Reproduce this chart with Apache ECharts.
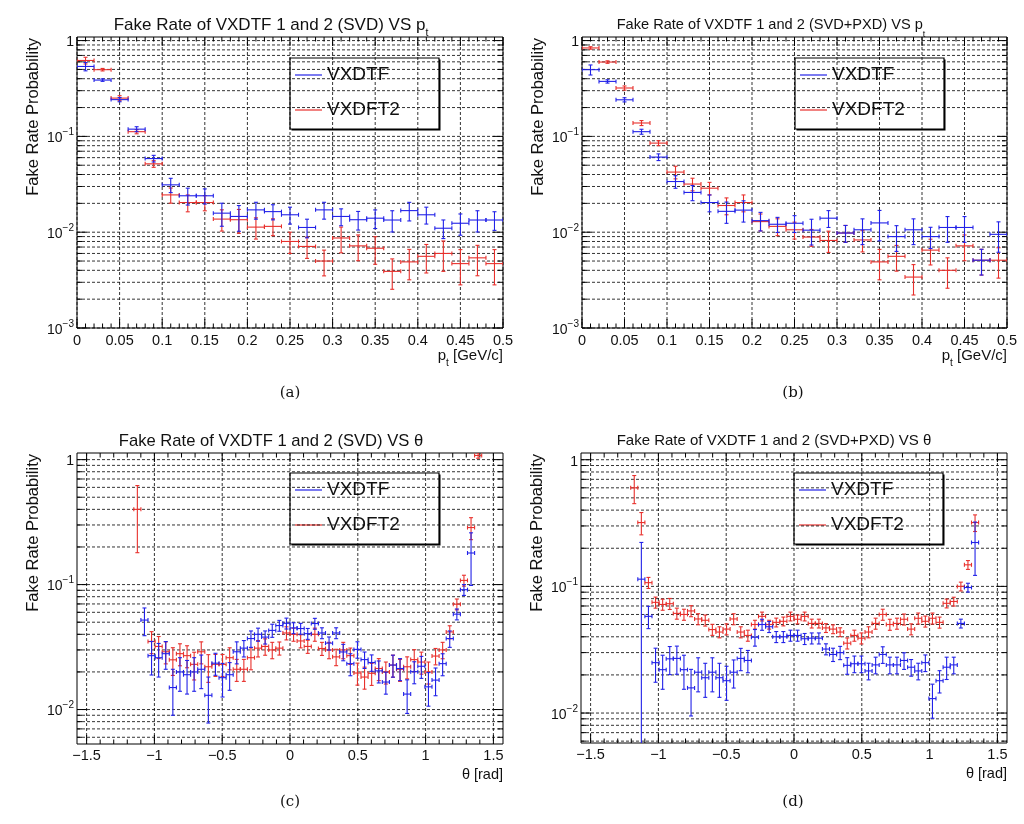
<!DOCTYPE html>
<html><head><meta charset="utf-8">
<script src="https://cdn.jsdelivr.net/npm/echarts@6/dist/echarts.min.js"></script>
<style>html,body{margin:0;padding:0;background:#fff}#c{width:1024px;height:824px}</style>
</head><body><div id="c"></div>
<script>
// ---------------- data ----------------
const ptBins = [0.01,0.03,0.05,0.07,0.09,0.11,0.13,0.15,0.17,0.19,0.21,0.23,0.25,0.27,0.29,0.31,0.33,0.35,0.37,0.39,0.41,0.43,0.45,0.47,0.49];
const ptHalfWidth = 0.01;

const aBlue    = [0.537,0.387,0.242,0.119,0.0587,0.0312,0.0240,0.0240,0.0158,0.0146,0.0171,0.0164,0.0152,0.0112,0.0171,0.0146,0.0135,0.0140,0.0134,0.0168,0.0152,0.0110,0.0124,0.0134,0.0134];
const aBlueErr = [0.10,0.03,0.05,0.06,0.08,0.17,0.20,0.18,0.27,0.30,0.20,0.18,0.20,0.22,0.20,0.20,0.22,0.22,0.25,0.22,0.20,0.22,0.25,0.25,0.22];
const aRed     = [0.62,0.497,0.251,0.112,0.0517,0.0245,0.0204,0.0204,0.0137,0.0135,0.0113,0.0115,0.0080,0.0071,0.0050,0.0087,0.0072,0.0068,0.0039,0.0049,0.0056,0.0060,0.0047,0.0054,0.0047];
const aRedErr  = [0.08,0.03,0.06,0.05,0.08,0.18,0.20,0.18,0.25,0.28,0.25,0.20,0.25,0.25,0.30,0.30,0.30,0.32,0.35,0.35,0.33,0.35,0.40,0.35,0.40];

const bBlue    = [0.497,0.375,0.241,0.112,0.0608,0.0338,0.0260,0.0204,0.0165,0.0170,0.0132,0.0121,0.0124,0.0105,0.0140,0.0098,0.0106,0.0125,0.0090,0.0106,0.0090,0.0112,0.0112,0.0051,0.0095];
const bBlueErr = [0.12,0.04,0.05,0.06,0.08,0.15,0.18,0.20,0.25,0.25,0.22,0.18,0.20,0.30,0.20,0.20,0.30,0.35,0.30,0.30,0.25,0.30,0.30,0.30,0.35];
const bRed     = [0.838,0.597,0.320,0.138,0.0851,0.0424,0.0318,0.0288,0.0190,0.0204,0.0129,0.0115,0.0106,0.0089,0.0082,0.0098,0.0083,0.0049,0.0056,0.0034,0.0065,0.0040,0.0072,0.0051,0.0051];
const bRedErr  = [0.03,0.03,0.05,0.06,0.06,0.15,0.15,0.15,0.20,0.20,0.20,0.20,0.20,0.20,0.25,0.20,0.25,0.35,0.30,0.35,0.30,0.35,0.30,0.30,0.35];

const thetaBins = [-1.1781,-1.1257,-1.0734,-1.0210,-0.9687,-0.9163,-0.8639,-0.8116,-0.7592,-0.7069,-0.6545,-0.6021,-0.5498,-0.4974,-0.4451,-0.3927,-0.3403,-0.2880,-0.2356,-0.1833,-0.1309,-0.0785,-0.0262,0.0262,0.0785,0.1309,0.1833,0.2356,0.2880,0.3403,0.3927,0.4451,0.4974,0.5498,0.6021,0.6545,0.7069,0.7592,0.8116,0.8639,0.9163,0.9687,1.0210,1.0734,1.1257,1.1781,1.2305,1.2828,1.3352,1.3875];
const thetaHalfWidth = 0.02618;

const cBlue    = [null,null,0.052,0.027,0.026,0.028,0.015,0.020,0.019,0.020,0.021,0.013,0.0235,0.018,0.019,0.029,0.031,0.037,0.040,0.038,0.043,0.047,0.049,0.045,0.0445,0.0405,0.0488,0.041,0.034,0.041,0.0289,0.0233,0.0303,0.0251,0.0238,0.0204,0.0166,0.0227,0.0213,0.0133,0.0201,0.0222,0.0152,0.0172,0.0233,0.037,0.058,0.091,0.179,null];
const cBlueErr = [null,null,0.25,0.3,0.3,0.25,0.4,0.3,0.3,0.3,0.3,0.4,0.2,0.3,0.25,0.2,0.15,0.15,0.12,0.12,0.12,0.1,0.1,0.1,0.1,0.1,0.1,0.1,0.12,0.1,0.15,0.2,0.15,0.15,0.15,0.2,0.2,0.2,0.2,0.3,0.2,0.2,0.3,0.25,0.2,0.15,0.1,0.1,0.45,null];
const cRed     = [null,0.40,null,0.035,0.032,0.029,0.025,0.028,0.027,0.023,0.029,0.022,0.023,0.023,0.026,0.021,0.021,0.026,0.031,0.032,0.030,0.031,0.041,0.040,0.0354,0.032,0.040,0.0308,0.030,0.0264,0.030,0.027,0.0196,0.0182,0.0195,0.0213,0.020,0.0227,0.021,0.022,0.0251,0.024,0.020,0.0268,0.030,0.0418,0.0697,0.108,0.286,1.08];
const cRedErr  = [null,0.55,null,0.2,0.2,0.2,0.25,0.2,0.2,0.25,0.2,0.25,0.2,0.2,0.2,0.2,0.2,0.2,0.15,0.15,0.15,0.12,0.12,0.12,0.12,0.12,0.12,0.12,0.15,0.15,0.15,0.15,0.2,0.2,0.2,0.2,0.2,0.2,0.2,0.2,0.2,0.2,0.2,0.15,0.15,0.12,0.1,0.1,0.2,0.05];

const dBlue    = [null,0.114,0.058,0.025,0.022,0.0268,0.027,0.022,0.0158,0.021,0.019,0.021,0.019,0.018,0.021,0.027,0.026,0.0397,0.050,0.048,0.040,0.040,0.041,0.041,0.0386,0.039,0.039,0.032,0.029,0.030,0.0238,0.0245,0.0245,0.0215,0.024,0.029,0.024,0.024,0.026,0.023,0.0215,0.025,0.013,0.018,0.023,0.024,0.051,0.098,0.222,null];
const dBlueErr = [null,0.95,0.2,0.3,0.3,0.25,0.25,0.3,0.4,0.3,0.3,0.3,0.3,0.3,0.25,0.2,0.2,0.15,0.1,0.1,0.1,0.1,0.1,0.1,0.1,0.1,0.1,0.1,0.12,0.12,0.15,0.15,0.15,0.15,0.15,0.15,0.15,0.15,0.15,0.15,0.15,0.15,0.3,0.2,0.2,0.15,0.08,0.08,0.45,null];
const dRed     = [0.60,0.319,0.107,0.0748,0.072,0.073,0.0612,0.060,0.064,0.0553,0.054,0.0456,0.0436,0.046,0.0553,0.0436,0.041,0.050,0.058,0.050,0.052,0.053,0.058,0.055,0.058,0.051,0.051,0.047,0.046,0.0436,0.0356,0.041,0.039,0.0436,0.051,0.060,0.050,0.051,0.055,0.046,0.056,0.053,0.056,0.052,0.0735,0.076,0.10,0.148,0.319,null];
const dRedErr  = [0.25,0.2,0.1,0.1,0.1,0.1,0.1,0.1,0.1,0.1,0.1,0.1,0.1,0.1,0.1,0.1,0.1,0.08,0.08,0.08,0.08,0.08,0.08,0.08,0.08,0.08,0.08,0.08,0.08,0.08,0.1,0.1,0.1,0.1,0.1,0.1,0.1,0.1,0.1,0.1,0.1,0.1,0.1,0.1,0.08,0.08,0.08,0.08,0.15,null];

// tick labels / tick positions
const ptTickLabels = [0,0.05,0.1,0.15,0.2,0.25,0.3,0.35,0.4,0.45,0.5];
const thetaTickLabels = [-1.5,-1,-0.5,0,0.5,1,1.5];
const ptMinorTicks = []; for (let k=1;k<50;k++) if (k%5) ptMinorTicks.push(k/100);
const thetaMinorTicks = []; for (let k=-15;k<=15;k++) if (k%5) thetaMinorTicks.push(k/10);
function logMinors(decades){ const r=[]; decades.forEach(d=>{for(let m=2;m<=9;m++) r.push(+(m*d).toPrecision(3));}); return r; }

const seriesNames = ['VXDTF','VXDFT2'];
const titles = [
  'Fake Rate of VXDTF 1 and 2 (SVD) VS p',
  'Fake Rate of VXDTF 1 and 2 (SVD+PXD) VS p',
  'Fake Rate of VXDTF 1 and 2 (SVD) VS θ',
  'Fake Rate of VXDTF 1 and 2 (SVD+PXD) VS θ'
];
const captions = ['(a)','(b)','(c)','(d)'];

// ---------------- layout ----------------
const FONT = '"Liberation Sans", Arial, sans-serif';
const BLUE = '#2222e8', RED = '#e8302c';

const panels = [
  {grid:{left:77,top:37,width:426,height:291}, xMin:0, xMax:0.5, yMin:0.001, yMax:1.09,
   xMajor:ptTickLabels, xMinor:ptMinorTicks, yMajor:[0.001,0.01,0.1,1], yMinor:logMinors([0.001,0.01,0.1]),
   bins:ptBins, hw:ptHalfWidth, blue:aBlue, blueErr:aBlueErr, red:aRed, redErr:aRedErr,
   title:titles[0], sub:true, tx:266, ty:12, tsize:17, pt:true, cap:[290,393]},
  {grid:{left:582,top:37,width:425,height:291}, xMin:0, xMax:0.5, yMin:0.001, yMax:1.09,
   xMajor:ptTickLabels, xMinor:ptMinorTicks, yMajor:[0.001,0.01,0.1,1], yMinor:logMinors([0.001,0.01,0.1]),
   bins:ptBins, hw:ptHalfWidth, blue:bBlue, blueErr:bBlueErr, red:bRed, redErr:bRedErr,
   title:titles[1], sub:true, tx:766, ty:12, tsize:14.6, pt:true, cap:[793,393]},
  {grid:{left:77,top:453,width:426,height:291}, xMin:-1.5708, xMax:1.5708, yMin:0.0053, yMax:1.13,
   xMajor:thetaTickLabels, xMinor:thetaMinorTicks, yMajor:[0.01,0.1,1], yMinor:logMinors([0.001,0.01,0.1]).filter(v=>v>0.0053),
   bins:thetaBins, hw:thetaHalfWidth, blue:cBlue, blueErr:cBlueErr, red:cRed, redErr:cRedErr,
   title:titles[2], sub:false, tx:266, ty:428, tsize:16.6, pt:false, cap:[290,802]},
  {grid:{left:581,top:453,width:426,height:290}, xMin:-1.5708, xMax:1.5708, yMin:0.0058, yMax:1.13,
   xMajor:thetaTickLabels, xMinor:thetaMinorTicks, yMajor:[0.01,0.1,1], yMinor:logMinors([0.001,0.01,0.1]).filter(v=>v>0.0058),
   bins:thetaBins, hw:thetaHalfWidth, blue:dBlue, blueErr:dBlueErr, red:dRed, redErr:dRedErr,
   title:titles[3], sub:false, tx:769, ty:428, tsize:15, pt:false, cap:[793,802]}
];

function decorItem(p){
  return function(params, api){
    const cs = params.coordSys;
    const kind = api.value(2);
    const x0 = cs.x, y0 = cs.y, x1 = cs.x + cs.width, y1 = cs.y + cs.height;
    const g = {stroke:'#000', lineWidth:1, lineDash:[3,2], opacity:0.8};
    const t = {stroke:'#000', lineWidth:1};
    const ch = [];
    if (kind < 2) {
      const px = api.coord([api.value(0), p.yMin])[0];
      const L = kind === 0 ? 9 : 4.5;
      if (kind === 0) ch.push({type:'line', shape:{x1:px,y1:y0,x2:px,y2:y1}, style:g});
      ch.push({type:'line', shape:{x1:px,y1:y1,x2:px,y2:y1-L}, style:t});
      ch.push({type:'line', shape:{x1:px,y1:y0,x2:px,y2:y0+L}, style:t});
    } else {
      const py = api.coord([p.xMin, api.value(1)])[1];
      const L = kind === 2 ? 10 : 5;
      ch.push({type:'line', shape:{x1:x0,y1:py,x2:x1,y2:py}, style:g});
      ch.push({type:'line', shape:{x1:x0,y1:py,x2:x0+L,y2:py}, style:t});
      ch.push({type:'line', shape:{x1:x1,y1:py,x2:x1-L,y2:py}, style:t});
    }
    return {type:'group', children:ch};
  };
}
function decorData(p){
  const d = [];
  p.xMajor.forEach(v=>d.push([v,p.yMin,0]));
  p.xMinor.forEach(v=>d.push([v,p.yMin,1]));
  p.yMajor.forEach(v=>d.push([p.xMin,v,2]));
  p.yMinor.forEach(v=>d.push([p.xMin,v,3]));
  return d;
}
function errItem(p){
  return function(params, api){
    const x = api.value(0), y = api.value(1), f = api.value(2);
    const lo = Math.max(y*(1-f), 1e-6), hi = y*(1+f);
    const L = api.coord([x-p.hw, y]), R = api.coord([x+p.hw, y]);
    const B = api.coord([x, lo]), T = api.coord([x, hi]);
    const st = {stroke: api.visual('color'), lineWidth: 1.1, fill: null};
    const c = 2;
    return {type:'group', children:[
      {type:'line', shape:{x1:L[0],y1:L[1],x2:R[0],y2:R[1]}, style:st},
      {type:'line', shape:{x1:B[0],y1:B[1],x2:T[0],y2:T[1]}, style:st},
      {type:'line', shape:{x1:L[0],y1:L[1]-c,x2:L[0],y2:L[1]+c}, style:st},
      {type:'line', shape:{x1:R[0],y1:R[1]-c,x2:R[0],y2:R[1]+c}, style:st},
      {type:'line', shape:{x1:B[0]-c,y1:B[1],x2:B[0]+c,y2:B[1]}, style:st},
      {type:'line', shape:{x1:T[0]-c,y1:T[1],x2:T[0]+c,y2:T[1]}, style:st}
    ]};
  };
}
function errData(bins, vals, errs){
  const d = [];
  bins.forEach((x,i)=>{ if (vals[i] != null) d.push([x, vals[i], errs[i]]); });
  return d;
}
function yFmt(v){
  const l = Math.log10(v), r = Math.round(l);
  if (Math.abs(l-r) > 1e-6) return '';
  if (r === 0) return '{b|1}';
  return '{b|10}{s|\u2212' + (-r) + '}';
}

const option = {animation:false, backgroundColor:'#fff', grid:[], xAxis:[], yAxis:[], series:[], title:[], graphic:[]};

panels.forEach((p,i)=>{
  option.grid.push(Object.assign({show:true, borderColor:'#000', borderWidth:1, backgroundColor:'transparent', containLabel:false}, p.grid));
  const xa = {gridIndex:i, type:'value', min:p.xMin, max:p.xMax,
    axisLine:{show:false}, axisTick:{show:false}, splitLine:{show:false},
    axisLabel:{fontSize:14.5, color:'#111', fontFamily:FONT, margin:p.pt?5:4}};
  if (p.pt) { xa.interval = 0.05; xa.axisLabel.formatter = v => String(+(+v).toFixed(2)); }
  else {
    xa.axisLabel.customValues = thetaTickLabels;
    xa.axisLabel.formatter = v => { if (Math.abs(v*2 - Math.round(v*2)) > 1e-6) return ''; return (v < 0 ? '\u2212' : '') + Math.abs(+(+v).toFixed(1)); };
  }
  option.xAxis.push(xa);
  option.yAxis.push({gridIndex:i, type:'log', logBase:10, min:p.yMin, max:p.yMax,
    axisLine:{show:false}, axisTick:{show:false}, splitLine:{show:false},
    axisLabel:{formatter:yFmt, margin:3, color:'#111',
      rich:{b:{fontSize:14, fontFamily:FONT, lineHeight:18, verticalAlign:'bottom', color:'#111'},
            s:{fontSize:10, fontFamily:FONT, lineHeight:10, verticalAlign:'top', color:'#111'}}}});
  option.series.push({type:'custom', xAxisIndex:i, yAxisIndex:i, silent:true, z:1, clip:false,
    encode:{x:0,y:1}, data:decorData(p), renderItem:decorItem(p)});
  option.series.push({type:'custom', name:seriesNames[0], xAxisIndex:i, yAxisIndex:i, z:5, clip:true,
    itemStyle:{color:BLUE}, encode:{x:0,y:1}, data:errData(p.bins,p.blue,p.blueErr), renderItem:errItem(p)});
  option.series.push({type:'custom', name:seriesNames[1], xAxisIndex:i, yAxisIndex:i, z:4, clip:true,
    itemStyle:{color:RED}, encode:{x:0,y:1}, data:errData(p.bins,p.red,p.redErr), renderItem:errItem(p)});

  // title
  option.title.push({left:p.tx, top:p.ty, textAlign:'center',
    text: p.sub ? '{m|' + p.title + '}{u|t}' : '{m|' + p.title + '}',
    textStyle:{fontWeight:'normal', fontFamily:FONT, color:'#111',
      rich:{m:{fontSize:p.tsize, fontWeight:'normal', fontFamily:FONT, color:'#111', lineHeight:22, verticalAlign:'top'},
            u:{fontSize:p.tsize*0.62, fontWeight:'normal', fontFamily:FONT, color:'#111', lineHeight:10, verticalAlign:'bottom'}}}});

  const gx = p.grid.left, gy = p.grid.top, gw = p.grid.width, gh = p.grid.height;
  // y axis title
  option.graphic.push({type:'text', x: gx-44, y: gy+1, rotation: Math.PI/2, z:50,
    style:{text:'Fake Rate Probability', fontSize:16.5, fontFamily:FONT, fill:'#111', align:'right', verticalAlign:'middle'}});
  // x axis title
  option.graphic.push({type:'text', x: gx+gw, y: gy+gh+(p.pt?30:31), z:50,
    style: p.pt ? {text:'{m|p}{u|t}{m| [GeV/c]}', align:'right', verticalAlign:'middle',
                   rich:{m:{fontSize:15, fontFamily:FONT, fill:'#111', lineHeight:20, verticalAlign:'top'},
                         u:{fontSize:10, fontFamily:FONT, fill:'#111', lineHeight:10, verticalAlign:'bottom'}}}
                : {text:'θ [rad]', fontSize:14.5, fontFamily:FONT, fill:'#111', align:'right', verticalAlign:'middle'}});
  // caption
  option.graphic.push({type:'text', x:p.cap[0], y:p.cap[1], z:50,
    style:{text:captions[i], fontSize:15, fontFamily:'"DejaVu Serif", "Liberation Serif", serif', fill:'#111', align:'center', verticalAlign:'middle'}});
  // legend box
  const lx = gx + 213, ly = gy + (p.pt ? 21 : 20);
  option.graphic.push({type:'group', z:60, children:[
    {type:'rect', shape:{x:lx+1.5, y:ly+1.5, width:149, height:71}, style:{fill:'#000'}},
    {type:'rect', shape:{x:lx, y:ly, width:149, height:71}, style:{fill:'#fff', stroke:'#000', lineWidth:1.2}},
    {type:'line', shape:{x1:lx+5, y1:ly+17, x2:lx+32, y2:ly+17}, style:{stroke:BLUE, lineWidth:1.2}},
    {type:'line', shape:{x1:lx+5, y1:ly+52, x2:lx+32, y2:ly+52}, style:{stroke:RED, lineWidth:1.2}},
    {type:'text', x:lx+37, y:ly+17, style:{text:seriesNames[0], fontSize:19, fontFamily:FONT, fill:'#111', verticalAlign:'middle'}},
    {type:'text', x:lx+37, y:ly+52, style:{text:seriesNames[1], fontSize:19, fontFamily:FONT, fill:'#111', verticalAlign:'middle'}}
  ]});
});

const chart = echarts.init(document.getElementById('c'));
chart.setOption(option);
</script>
</body></html>
